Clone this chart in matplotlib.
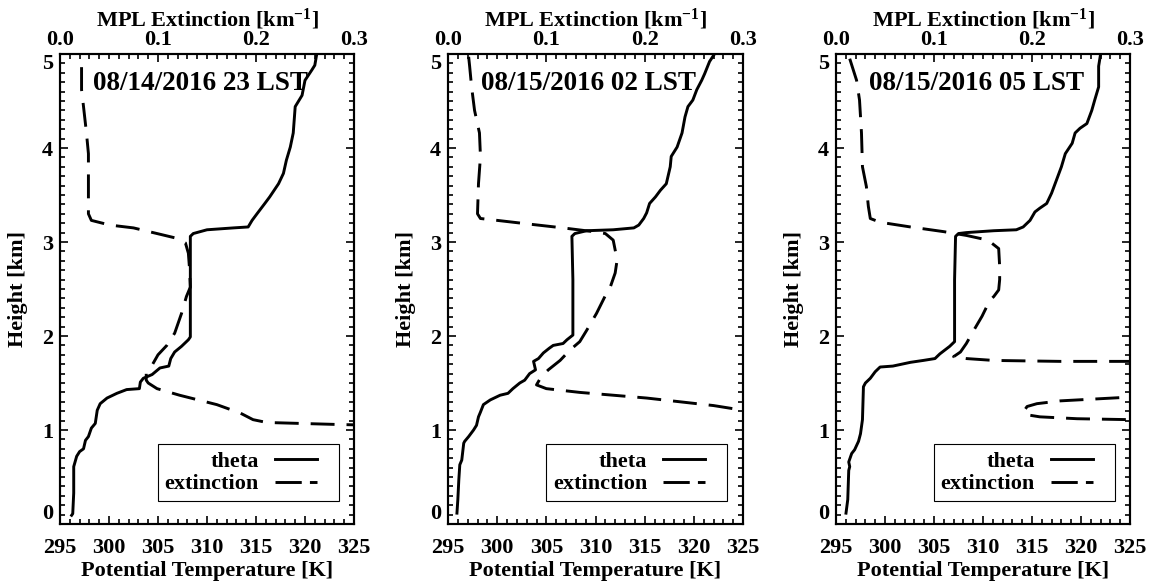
import matplotlib
matplotlib.use("Agg")
import matplotlib.pyplot as plt
from matplotlib.ticker import MultipleLocator, FormatStrFormatter
from matplotlib.lines import Line2D
from matplotlib.legend_handler import HandlerLine2D

# ---------------- data ----------------
titles = ["08/14/2016 23 LST", "08/15/2016 02 LST", "08/15/2016 05 LST"]

# panel 1: potential temperature (K) vs height (km)
h_theta1 = [0.08, 0.11, 0.33, 0.61, 0.72, 0.77, 0.80, 0.89, 0.93, 1.02, 1.07, 1.14, 1.21, 1.28,
            1.34, 1.39, 1.43, 1.44, 1.51, 1.55, 1.59, 1.66, 1.68, 1.76, 1.83, 1.89, 1.96, 1.99,
            2.60, 3.06, 3.09, 3.13, 3.15, 3.16, 3.23, 3.30, 3.41, 3.48, 3.62, 3.73, 3.87, 4.01,
            4.16, 4.44, 4.56, 4.72, 4.83, 4.88, 5.0]
theta1 = [296.1, 296.3, 296.4, 296.4, 296.7, 297.0, 297.4, 297.6, 297.9, 298.2, 298.6, 298.7,
          298.8, 299.1, 299.8, 300.8, 301.8, 303.1, 303.2, 303.5, 304.4, 305.2, 306.1, 306.3,
          306.7, 307.4, 308.1, 308.3, 308.3, 308.3, 308.6, 310.0, 312.7, 314.2, 314.6, 315.1,
          315.9, 316.4, 317.3, 317.8, 318.1, 318.5, 318.8, 319.0, 319.7, 320.0, 320.7, 321.0, 321.2]
# panel 1: MPL extinction (km-1) vs height (km)
h_ext1 = [4.86, 4.62, 4.44, 4.16, 3.94, 3.62, 3.30, 3.23, 3.18, 3.15, 3.09, 3.04, 2.99, 2.88,
          2.74, 2.52, 2.42, 2.24, 2.03, 1.90, 1.80, 1.69, 1.60, 1.53, 1.50, 1.44, 1.37, 1.27,
          1.18, 1.11, 1.08, 1.07, 1.06, 1.05]
ext1 = [0.022, 0.022, 0.024, 0.027, 0.029, 0.029, 0.029, 0.032, 0.051, 0.075, 0.099, 0.119,
        0.128, 0.131, 0.132, 0.133, 0.129, 0.124, 0.117, 0.109, 0.100, 0.094, 0.088, 0.088,
        0.090, 0.099, 0.122, 0.160, 0.184, 0.197, 0.211, 0.245, 0.279, 0.32]

# panel 2
h_theta2 = [0.10, 0.26, 0.47, 0.63, 0.68, 0.86, 0.88, 0.93, 1.00, 1.05, 1.14, 1.19, 1.27, 1.32,
            1.37, 1.39, 1.44, 1.50, 1.53, 1.60, 1.64, 1.73, 1.76, 1.82, 1.87, 1.90, 1.92, 1.96,
            2.01, 2.60, 3.06, 3.09, 3.12, 3.13, 3.15, 3.18, 3.25, 3.31, 3.41, 3.48, 3.55, 3.62,
            3.80, 3.91, 4.01, 4.16, 4.33, 4.44, 4.51, 4.62, 4.72, 4.79, 4.92, 5.0]
theta2 = [295.9, 296.0, 296.1, 296.2, 296.4, 296.6, 296.7, 297.1, 297.6, 297.9, 298.1, 298.3,
          298.6, 299.3, 300.3, 301.1, 301.6, 302.3, 302.8, 303.3, 303.9, 303.7, 304.2, 304.7,
          305.3, 305.7, 306.7, 307.1, 307.7, 307.7, 307.6, 307.9, 309.1, 311.8, 313.9, 314.4,
          314.9, 315.2, 315.5, 316.1, 316.6, 317.2, 317.6, 317.7, 318.3, 318.8, 319.1, 319.4,
          319.9, 320.3, 320.8, 321.1, 321.6, 322.1]
h_ext2 = [4.97, 4.87, 4.65, 4.40, 4.16, 3.91, 3.62, 3.30, 3.25, 3.23, 3.19, 3.15, 3.11, 3.09,
          3.02, 2.81, 2.67, 2.52, 2.45, 2.24, 2.06, 1.94, 1.85, 1.74, 1.64, 1.57, 1.48, 1.44,
          1.40, 1.37, 1.34, 1.30, 1.26, 1.21, 1.18]
ext2 = [0.021, 0.022, 0.024, 0.027, 0.032, 0.033, 0.031, 0.030, 0.033, 0.050, 0.083, 0.117,
        0.148, 0.160, 0.168, 0.172, 0.170, 0.165, 0.161, 0.151, 0.141, 0.134, 0.124, 0.114,
        0.102, 0.095, 0.090, 0.100, 0.134, 0.168, 0.202, 0.236, 0.270, 0.300, 0.32]

# panel 3
h_theta3 = [0.10, 0.26, 0.57, 0.61, 0.66, 0.75, 0.79, 0.88, 0.96, 1.11, 1.46, 1.50, 1.55, 1.62,
            1.67, 1.68, 1.72, 1.74, 1.76, 1.81, 1.85, 1.89, 1.94, 2.60, 3.06, 3.09, 3.10, 3.12,
            3.13, 3.16, 3.23, 3.32, 3.36, 3.41, 3.52, 3.66, 3.80, 3.94, 4.05, 4.16, 4.21, 4.26,
            4.40, 4.51, 4.65, 4.87, 5.0]
theta3 = [296.0, 296.2, 296.3, 296.4, 296.3, 296.6, 296.9, 297.3, 297.5, 297.7, 297.8, 298.0,
          298.5, 299.0, 299.5, 300.8, 302.6, 303.9, 305.1, 305.6, 306.1, 306.6, 307.1, 307.1,
          307.2, 307.5, 308.3, 311.1, 313.4, 314.1, 314.8, 315.3, 315.8, 316.5, 317.0, 317.5,
          318.0, 318.4, 319.1, 319.4, 319.9, 320.6, 321.1, 321.4, 321.8, 321.8, 322.0]
h_ext3 = [4.95, 4.72, 4.51, 4.16, 3.80, 3.59, 3.38, 3.25, 3.21, 3.16, 3.11, 3.07, 3.02, 2.93,
          2.74, 2.60, 2.49, 2.42, 2.38, 2.21, 2.05, 1.92, 1.83, 1.78, 1.76, 1.74, 1.73, 1.73,
          1.55, 1.35, 1.31, 1.28, 1.25, 1.19, 1.16, 1.14, 1.12, 1.11, 1.0]
ext3 = [0.014, 0.021, 0.024, 0.026, 0.027, 0.031, 0.033, 0.035, 0.045, 0.076, 0.110, 0.133,
        0.155, 0.166, 0.167, 0.167, 0.166, 0.161, 0.157, 0.149, 0.140, 0.133, 0.127, 0.120,
        0.133, 0.161, 0.229, 0.300, 0.5, 0.300, 0.229, 0.205, 0.195, 0.191, 0.196, 0.208,
        0.246, 0.300, 0.5]

height_ticks = [0, 1, 2, 3, 4, 5]
theta_ticks = [295, 300, 305, 310, 315, 320, 325]
ext_ticks = [0.0, 0.1, 0.2, 0.3]

thetas = [(theta1, h_theta1), (theta2, h_theta2), (theta3, h_theta3)]
exts = [(ext1, h_ext1), (ext2, h_ext2), (ext3, h_ext3)]
legend_labels = ["theta", "extinction"]

# ---------------- style ----------------
plt.rcParams.update({
    "font.family": ["Liberation Serif", "DejaVu Serif"],
    "font.weight": "bold",
    "axes.labelweight": "bold",
    "mathtext.fontset": "custom",
    "mathtext.rm": "Liberation Serif:bold",
    "mathtext.bf": "Liberation Serif:bold",
    "mathtext.it": "Liberation Serif:bold",
})


class ShortLineHandler(HandlerLine2D):
    """Draw the legend line over only the left part of the handle box."""
    def __init__(self, frac=0.74, **kw):
        super().__init__(**kw)
        self.frac = frac

    def create_artists(self, legend, orig_handle, xdescent, ydescent, width, height,
                       fontsize, trans):
        return super().create_artists(legend, orig_handle, xdescent, ydescent,
                                      width * self.frac, height, fontsize, trans)


W, H = 1154, 586
fig = plt.figure(figsize=(W / 100, H / 100), dpi=100)
lefts = [60, 448, 836]
widths = [294, 295, 294]
top_px, bot_px = 54, 524
LW = 2.1
DASH = (0, (8.2, 4.1))
FS = 16

for i in range(3):
    ax = fig.add_axes([lefts[i] / W, 1 - bot_px / H, widths[i] / W, (bot_px - top_px) / H])
    ax2 = ax.twiny()
    th, hth = thetas[i]
    ex, hex_ = exts[i]
    ax.plot(th, hth, color="k", lw=LW, solid_joinstyle="round", solid_capstyle="butt")
    ax2.plot(ex, hex_, color="k", lw=LW, linestyle=DASH, dash_capstyle="butt",
             dash_joinstyle="round")
    ax.set_xlim(295, 325)
    ax.set_ylim(0, 5)
    ax2.set_xlim(0, 0.3)

    ax.set_xticks(theta_ticks)
    ax.xaxis.set_minor_locator(MultipleLocator(1))
    ax.set_yticks(height_ticks)
    ax.yaxis.set_minor_locator(MultipleLocator(0.1))
    ax2.set_xticks(ext_ticks)
    ax2.xaxis.set_minor_locator(MultipleLocator(0.01))
    ax2.xaxis.set_major_formatter(FormatStrFormatter("%.1f"))

    ax.tick_params(axis="both", which="both", direction="in", labelsize=FS, width=1.2)
    ax.tick_params(axis="x", which="both", bottom=True, top=False, pad=10)
    ax.tick_params(axis="y", which="both", left=True, right=True, pad=5)
    ax.tick_params(which="major", length=6)
    ax.tick_params(which="minor", length=3.5)
    ax2.tick_params(axis="x", which="both", direction="in", top=True, bottom=False,
                    labelsize=FS, width=1.2, pad=3)
    ax2.tick_params(axis="x", which="major", length=6)
    ax2.tick_params(axis="x", which="minor", length=3.5)

    # keep the end labels of the height axis inside the frame
    yt = ax.yaxis.get_major_ticks()
    yt[0].label1.set_verticalalignment("bottom")
    yt[-1].label1.set_verticalalignment("top")

    for a in (ax, ax2):
        for s in a.spines.values():
            s.set_linewidth(1.5)

    ax.set_xlabel("Potential Temperature [K]", fontsize=FS, labelpad=2)
    ax.set_ylabel("Height [km]", fontsize=FS, labelpad=10)
    ax2.set_xlabel(r"MPL Extinction [km$^{\mathbf{-1}}$]", fontsize=FS, labelpad=2.5)

    ax2.text(0.112, 0.923, titles[i], transform=ax2.transAxes, ha="left", va="baseline",
             fontsize=19.5, fontweight="bold")

    handles = [Line2D([], [], color="k", lw=LW),
               Line2D([], [], color="k", lw=LW, linestyle=(0, (9.0, 2.8)), dash_capstyle="butt")]
    leg = ax2.legend(handles, legend_labels, loc="lower left", bbox_to_anchor=(0.333, 0.049),
                     markerfirst=False, fontsize=FS, handlelength=2.57, handletextpad=0.72,
                     borderpad=0.3, labelspacing=0.1, borderaxespad=0, fancybox=False,
                     edgecolor="k", framealpha=1,
                     handler_map={Line2D: ShortLineHandler(frac=0.74)})
    leg.get_frame().set_linewidth(0.8)

fig.savefig("out.png", dpi=100)
